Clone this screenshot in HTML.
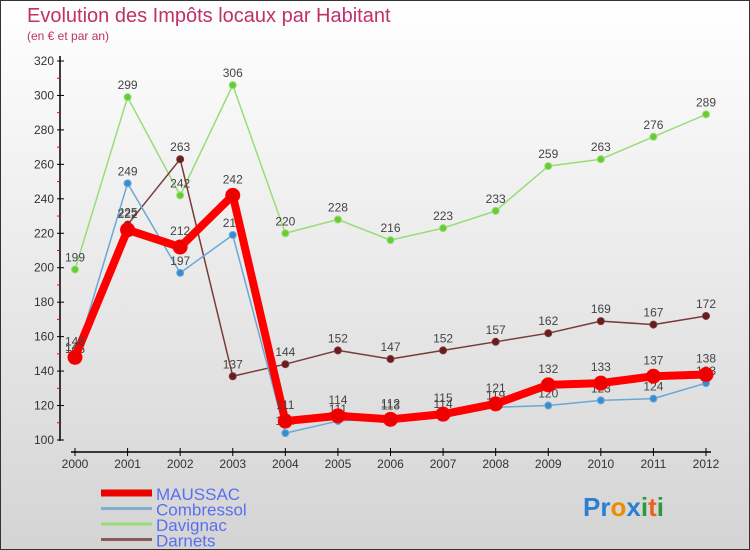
<!DOCTYPE html>
<html><head><meta charset="utf-8"><style>
html,body{margin:0;padding:0;}
body{width:750px;height:550px;overflow:hidden;font-family:"Liberation Sans",sans-serif;}
#wrap{position:relative;width:748px;height:548px;border:1px solid #333;background:linear-gradient(#ffffff,#d4d4d4);}
svg{position:absolute;left:0;top:0;}
</style></head><body>
<div id="wrap">
<svg id="chart" width="748" height="548">
<text x="26" y="21" font-size="20" fill="#c0306a">Evolution des Impôts locaux par Habitant</text>
<text x="26" y="39" font-size="12" fill="#c0306a">(en € et par an)</text>
</svg>
</div>
<script>
const years=["2000","2001","2002","2003","2004","2005","2006","2007","2008","2009","2010","2011","2012"];
const yTicks=[100,120,140,160,180,200,220,240,260,280,300,320];
const maussac=[148,222,212,242,111,114,112,115,121,132,133,137,138];
const combressol=[147,249,197,219,104,111,113,114,119,120,123,124,133];
const davignac=[199,299,242,306,220,228,216,223,233,259,263,276,289];
const darnets=[146,225,263,137,144,152,147,152,157,162,169,167,172];

const svg=document.getElementById('chart');
const NS='http://www.w3.org/2000/svg';
const xPos=i=>74+i*(705-74)/(years.length-1);
const yPos=v=>439-(v-100)*(439-60)/(320-100);
function mk(tag,attrs){const e=document.createElementNS(NS,tag);for(const k in attrs)e.setAttribute(k,attrs[k]);svg.appendChild(e);return e;}

// axes
let ax=mk('line',{x1:59,y1:55,x2:59,y2:440,stroke:'#000','stroke-width':1.5});


let bx=mk('line',{x1:70,y1:451,x2:710,y2:451,stroke:'#000','stroke-width':1.5});


yTicks.forEach((t,i)=>{
  const y=yPos(t);
  mk('line',{x1:56,y1:y,x2:63,y2:y,stroke:'#000'});
  const tx=mk('text',{x:53,y:y+4,'font-size':12,fill:'#333','text-anchor':'end'});
  tx.textContent=t;
  
  
  if(i<yTicks.length-1){mk('line',{x1:56,y1:yPos(t+10),x2:59,y2:yPos(t+10),stroke:'#f00'});}
});
years.forEach((yr,i)=>{
  const x=xPos(i);
  mk('line',{x1:x,y1:447,x2:x,y2:455,stroke:'#000'});
  const tx=mk('text',{x:x,y:467,'font-size':12,fill:'#333','text-anchor':'middle'});
  tx.textContent=yr;
  
  
});

function series(data,name,color,dot,w,r,dy){
  const pts=data.map((v,i)=>xPos(i)+','+yPos(v)).join(' ');
  const pl=mk('polyline',{points:pts,fill:'none',stroke:color,'stroke-width':w,'stroke-linejoin':'round'});
  
  
  data.forEach((v,i)=>{
    const c=mk('circle',{cx:xPos(i),cy:yPos(v),r:r,fill:dot,stroke:color,'stroke-width':1});
    
    
    const t=mk('text',{x:xPos(i),y:yPos(v)-dy,'font-size':12,fill:'#444','text-anchor':'middle'});
    t.textContent=v;
    
    
  });
}
series(davignac,'davignac','#99dd77','#66cc33',1.5,3.5,8);
series(darnets,'darnets','#7a3a3a','#6b1b1b',1.5,3.5,8);
series(combressol,'combressol','#6aa8d8','#3a8ccc',1.5,3.5,8);
series(maussac,'maussac','#ff0000','#ee0000',8,7,12);

// legend
const leg=[['MAUSSAC','#ee0000',7],['Combressol','#7fafd0',3],['Davignac','#99dd77',3],['Darnets','#8a5a5a',3]];
leg.forEach((l,i)=>{
  const y=492+i*15.5;
  const ln=mk('line',{x1:100,y1:y,x2:151,y2:y,stroke:l[1],'stroke-width':l[2]});
  
  
  const t=mk('text',{x:155,y:y+7,'font-size':17,fill:'#5a6ff0'});
  t.textContent=l[0];
  
  
});
// logo
const lg=mk('text',{x:582,y:515,'font-size':26,'font-weight':'bold'});


lg.innerHTML='<tspan fill="#2a7fd4">Pr</tspan><tspan fill="#f08a00">o</tspan><tspan fill="#2a7fd4">x</tspan><tspan fill="#2a9a3a">i</tspan><tspan fill="#f06020">t</tspan><tspan fill="#2a9a3a">i</tspan>';
</script>
</body></html>
